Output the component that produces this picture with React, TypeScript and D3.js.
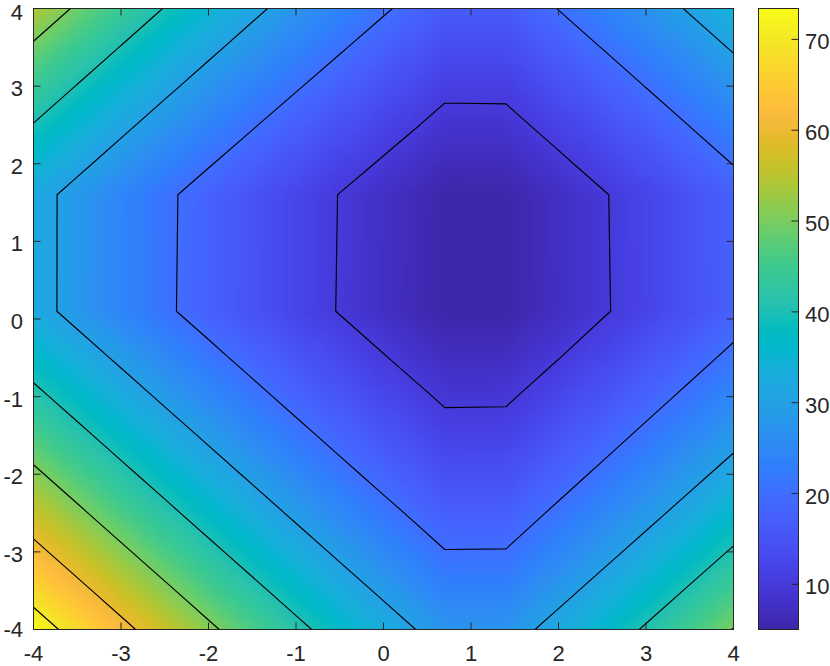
import React, { useMemo } from 'react';
import * as d3 from 'd3';

// Grid nodes (data coordinates) and values
const xNodes = [-4, -3.5, -3, -2.5, -2, -1.5, -1, -0.5, 0, 0.7, 1.4, 2, 2.5, 3, 3.5, 4];
const yNodes = [-4, -3.5, -3, -2.5, -2, -1.5, -1, -0.5, 0.1, 1.6, 2, 2.5, 3, 3.5, 4];
// zRows[j][i] = value at (xNodes[i], yNodes[j])
const zRows = [
  [73.4, 67.48, 61.82, 56.39, 51.21, 46.28, 41.59, 37.15, 32.95, 27.34, 27.36, 32.14, 36.29, 40.68, 45.32, 50.21],
  [67.48, 61.82, 56.39, 51.21, 46.28, 41.59, 37.15, 32.95, 28.95, 23.52, 23.57, 28.17, 32.14, 36.29, 40.68, 45.32],
  [61.82, 56.39, 51.21, 46.28, 41.59, 37.15, 32.95, 28.95, 25.01, 20.19, 20.24, 24.38, 28.19, 32.14, 36.29, 40.68],
  [56.39, 51.21, 46.28, 41.59, 37.15, 32.95, 28.95, 25.01, 21.49, 17.11, 17.16, 20.97, 24.44, 28.21, 32.14, 36.29],
  [51.21, 46.28, 41.59, 37.15, 32.95, 28.95, 25.01, 21.49, 18.31, 14.27, 14.32, 17.84, 21.04, 24.5, 28.23, 32.14],
  [46.28, 41.59, 37.15, 32.95, 28.95, 25.01, 21.49, 18.31, 15.37, 11.68, 11.73, 14.95, 17.91, 21.11, 24.56, 28.24],
  [41.59, 37.15, 32.95, 28.95, 25.01, 21.49, 18.31, 15.37, 12.69, 9.34, 9.39, 12.31, 15.02, 17.98, 21.18, 24.62],
  [37.15, 32.95, 28.95, 25.01, 21.49, 18.31, 15.37, 12.69, 10.24, 7.23, 7.28, 9.91, 12.38, 15.09, 18.05, 21.25],
  [32.14, 28.14, 24.26, 20.84, 17.7, 14.82, 12.17, 9.78, 7.63, 5.03, 5.08, 7.36, 9.54, 11.95, 14.61, 17.52],
  [32.14, 28.17, 24.35, 20.94, 17.81, 14.92, 12.28, 9.88, 7.74, 5.14, 5.19, 7.47, 9.64, 12.06, 14.71, 17.63],
  [35.44, 31.34, 27.4, 23.68, 20.35, 17.27, 14.43, 11.84, 9.5, 6.62, 6.67, 9.19, 11.55, 14.17, 17.02, 20.13],
  [39.78, 35.44, 31.34, 27.43, 23.75, 20.42, 17.34, 14.5, 11.91, 8.69, 8.74, 11.55, 14.17, 17.02, 20.13, 23.47],
  [44.37, 39.78, 35.44, 31.34, 27.46, 23.82, 20.49, 17.41, 14.57, 11.01, 11.06, 14.17, 17.02, 20.13, 23.47, 26.9],
  [49.21, 44.37, 39.78, 35.44, 31.34, 27.48, 23.89, 20.56, 17.48, 13.57, 13.62, 17.02, 20.13, 23.47, 26.9, 30.55],
  [54.29, 49.21, 44.37, 39.78, 35.44, 31.34, 27.51, 23.96, 20.63, 16.39, 16.44, 20.13, 23.47, 26.9, 30.55, 34.6],
];
const contourLevels = [10, 20, 30, 40, 50, 60, 70];
const xTicks = [-4, -3, -2, -1, 0, 1, 2, 3, 4];
const yTicks = [-4, -3, -2, -1, 0, 1, 2, 3, 4];
const colorbarTicks = [10, 20, 30, 40, 50, 60, 70];

const PARULA: number[][] = [
  [0.2422, 0.1504, 0.6603], [0.2504, 0.165, 0.7076], [0.2578, 0.1818, 0.7511], [0.2647, 0.1978, 0.7952],
  [0.2706, 0.2147, 0.8364], [0.2751, 0.2342, 0.871], [0.2783, 0.2559, 0.8991], [0.2803, 0.2782, 0.9221],
  [0.2813, 0.3006, 0.9414], [0.281, 0.3228, 0.9579], [0.2795, 0.3447, 0.9717], [0.276, 0.3667, 0.9829],
  [0.2699, 0.3892, 0.9906], [0.2602, 0.4123, 0.9952], [0.244, 0.4358, 0.9988], [0.2206, 0.4603, 0.9973],
  [0.1963, 0.4847, 0.9892], [0.1834, 0.5074, 0.9798], [0.1786, 0.5289, 0.9682], [0.1764, 0.5499, 0.952],
  [0.1687, 0.5703, 0.9359], [0.154, 0.5902, 0.9218], [0.146, 0.6091, 0.9079], [0.138, 0.6276, 0.8973],
  [0.1248, 0.6459, 0.8883], [0.1113, 0.6635, 0.8763], [0.0952, 0.6798, 0.8598], [0.0689, 0.6948, 0.8394],
  [0.0297, 0.7082, 0.8163], [0.0036, 0.7203, 0.7917], [0.0067, 0.7312, 0.766], [0.0433, 0.7411, 0.7394],
  [0.0964, 0.75, 0.712], [0.1408, 0.7584, 0.6842], [0.1717, 0.767, 0.6554], [0.1938, 0.7758, 0.6251],
  [0.2161, 0.7843, 0.5923], [0.247, 0.7918, 0.5567], [0.2906, 0.7973, 0.5188], [0.3406, 0.8008, 0.4789],
  [0.3909, 0.8029, 0.4354], [0.4456, 0.8024, 0.3909], [0.5044, 0.7993, 0.348], [0.5616, 0.7942, 0.3045],
  [0.6174, 0.7876, 0.2612], [0.672, 0.7793, 0.2227], [0.7242, 0.7698, 0.191], [0.7738, 0.7598, 0.1646],
  [0.8203, 0.7498, 0.1535], [0.8634, 0.7406, 0.1596], [0.9035, 0.733, 0.1774], [0.9393, 0.7288, 0.21],
  [0.9728, 0.7298, 0.2394], [0.9956, 0.7434, 0.2371], [0.997, 0.7659, 0.2199], [0.9952, 0.7893, 0.2028],
  [0.9892, 0.8136, 0.1885], [0.9786, 0.8386, 0.1766], [0.9676, 0.8639, 0.1643], [0.961, 0.889, 0.1537],
  [0.9597, 0.9135, 0.1423], [0.9628, 0.9373, 0.1265], [0.9691, 0.9606, 0.1064], [0.9769, 0.9839, 0.0805],
];
const parulaHex = PARULA.map(([r, g, b]) => d3.rgb(r * 255, g * 255, b * 255).formatHex());

const W = 830;
const H = 666;
const L = 33.5, R = 733.5, T = 8.5, B = 629.5;
const CB_L = 758.5, CB_R = 798.5;
const TEXT = '#262626';
const FONT = 'Liberation Sans, Arial, Helvetica, sans-serif';
const FS = 22;

function interp(xv: number, yv: number): number {
  let i = d3.bisectRight(xNodes, xv) - 1;
  i = Math.max(0, Math.min(xNodes.length - 2, i));
  let j = d3.bisectRight(yNodes, yv) - 1;
  j = Math.max(0, Math.min(yNodes.length - 2, j));
  const tx = (xv - xNodes[i]) / (xNodes[i + 1] - xNodes[i]);
  const ty = (yv - yNodes[j]) / (yNodes[j + 1] - yNodes[j]);
  const z00 = zRows[j][i], z10 = zRows[j][i + 1], z01 = zRows[j + 1][i], z11 = zRows[j + 1][i + 1];
  return (1 - ty) * ((1 - tx) * z00 + tx * z10) + ty * ((1 - tx) * z01 + tx * z11);
}

function isoSegments(level: number): number[][][] {
  const segs: number[][][] = [];
  for (let j = 0; j < yNodes.length - 1; j++) {
    for (let i = 0; i < xNodes.length - 1; i++) {
      const p = [
        [xNodes[i], yNodes[j], zRows[j][i]],
        [xNodes[i + 1], yNodes[j], zRows[j][i + 1]],
        [xNodes[i + 1], yNodes[j + 1], zRows[j + 1][i + 1]],
        [xNodes[i], yNodes[j + 1], zRows[j + 1][i]],
      ];
      const pts: { e: number; pt: number[] }[] = [];
      for (let e = 0; e < 4; e++) {
        const a = p[e], b = p[(e + 1) % 4];
        if ((a[2] >= level) !== (b[2] >= level)) {
          const t = (level - a[2]) / (b[2] - a[2]);
          pts.push({ e, pt: [a[0] + t * (b[0] - a[0]), a[1] + t * (b[1] - a[1])] });
        }
      }
      if (pts.length === 2) segs.push([pts[0].pt, pts[1].pt]);
      else if (pts.length === 4) {
        const c = (p[0][2] + p[1][2] + p[2][2] + p[3][2]) / 4;
        if ((p[0][2] >= level) === (c >= level)) {
          segs.push([pts[0].pt, pts[1].pt]);
          segs.push([pts[2].pt, pts[3].pt]);
        } else {
          segs.push([pts[3].pt, pts[0].pt]);
          segs.push([pts[1].pt, pts[2].pt]);
        }
      }
    }
  }
  return segs;
}

export default function App() {
  const x = d3.scaleLinear().domain([-4, 4]).range([L, R]);
  const y = d3.scaleLinear().domain([-4, 4]).range([B, T]);
  const allZ = zRows.flat();
  const zMin = d3.min(allZ) as number;
  const zMax = d3.max(allZ) as number;
  const color = d3
    .scaleLinear<string>()
    .domain(parulaHex.map((_, k) => zMin + (k * (zMax - zMin)) / (parulaHex.length - 1)))
    .range(parulaHex)
    .clamp(true);
  const cb = d3.scaleLinear().domain([zMin, zMax]).range([B, T]);

  const cells = useMemo(() => {
    const out: { px: number; py: number; c: string }[] = [];
    const step = 3;
    for (let py = 8; py < 630; py += step) {
      for (let px = 33; px < 734; px += step) {
        const xv = Math.max(-4, Math.min(4, x.invert(px + step / 2)));
        const yv = Math.max(-4, Math.min(4, y.invert(py + step / 2)));
        out.push({ px, py, c: color(interp(xv, yv)) });
      }
    }
    return out;
  }, []);

  const contourPaths = useMemo(
    () =>
      contourLevels.map((lv) =>
        isoSegments(lv)
          .map(([a, b]) => `M${x(a[0])},${y(a[1])}L${x(b[0])},${y(b[1])}`)
          .join('')
      ),
    []
  );

  return (
    <svg
      width={W}
      height={H}
      style={{ position: 'absolute', left: 0, top: 0, display: 'block', background: '#fff' }}
    >
      <defs>
        <clipPath id="plotclip">
          <rect x={L} y={T} width={R - L} height={B - T} />
        </clipPath>
        <linearGradient id="cbgrad" x1="0" y1="1" x2="0" y2="0">
          {parulaHex.map((c, k) => (
            <stop key={k} offset={k / (parulaHex.length - 1)} stopColor={c} />
          ))}
        </linearGradient>
      </defs>
      <rect x={0} y={0} width={W} height={H} fill="#fff" />
      <g clipPath="url(#plotclip)" shapeRendering="crispEdges">
        {cells.map((d, k) => (
          <rect key={k} x={d.px} y={d.py} width={3} height={3} fill={d.c} />
        ))}
      </g>
      <g clipPath="url(#plotclip)" fill="none" stroke="#000" strokeWidth={1.15} strokeLinecap="round">
        {contourPaths.map((p, k) => (
          <path key={k} d={p} />
        ))}
      </g>
      {/* axes box */}
      <rect x={L} y={T} width={R - L} height={B - T} fill="none" stroke={TEXT} strokeWidth={1} />
      <g stroke={TEXT} strokeWidth={1}>
        {xTicks.map((v) => (
          <g key={'xt' + v}>
            <line x1={x(v)} x2={x(v)} y1={B} y2={B - 7} />
            <line x1={x(v)} x2={x(v)} y1={T} y2={T + 7} />
          </g>
        ))}
        {yTicks.map((v) => (
          <g key={'yt' + v}>
            <line x1={L} x2={L + 7} y1={y(v)} y2={y(v)} />
            <line x1={R} x2={R - 7} y1={y(v)} y2={y(v)} />
          </g>
        ))}
      </g>
      <g fontFamily={FONT} fontSize={FS} fill={TEXT}>
        {xTicks.map((v) => (
          <text key={'xl' + v} x={x(v)} y={661} textAnchor="middle">
            {String(v)}
          </text>
        ))}
        {yTicks.map((v) => (
          <text key={'yl' + v} x={23} y={y(v) + (v === -4 ? 7.5 : v === 4 ? 11 : 10)} textAnchor="end">
            {String(v)}
          </text>
        ))}
      </g>
      {/* colorbar */}
      <rect x={CB_L} y={T} width={CB_R - CB_L} height={B - T} fill="url(#cbgrad)" />
      <rect x={CB_L} y={T} width={CB_R - CB_L} height={B - T} fill="none" stroke={TEXT} strokeWidth={1} />
      <g stroke={TEXT} strokeWidth={1}>
        {colorbarTicks.map((v) => (
          <line key={'ct' + v} x1={CB_R - 7} x2={CB_R} y1={cb(v)} y2={cb(v)} />
        ))}
      </g>
      <g fontFamily={FONT} fontSize={FS} fill={TEXT}>
        {colorbarTicks.map((v) => (
          <text key={'cl' + v} x={805} y={cb(v) + 10} textAnchor="start">
            {String(v)}
          </text>
        ))}
      </g>
    </svg>
  );
}
